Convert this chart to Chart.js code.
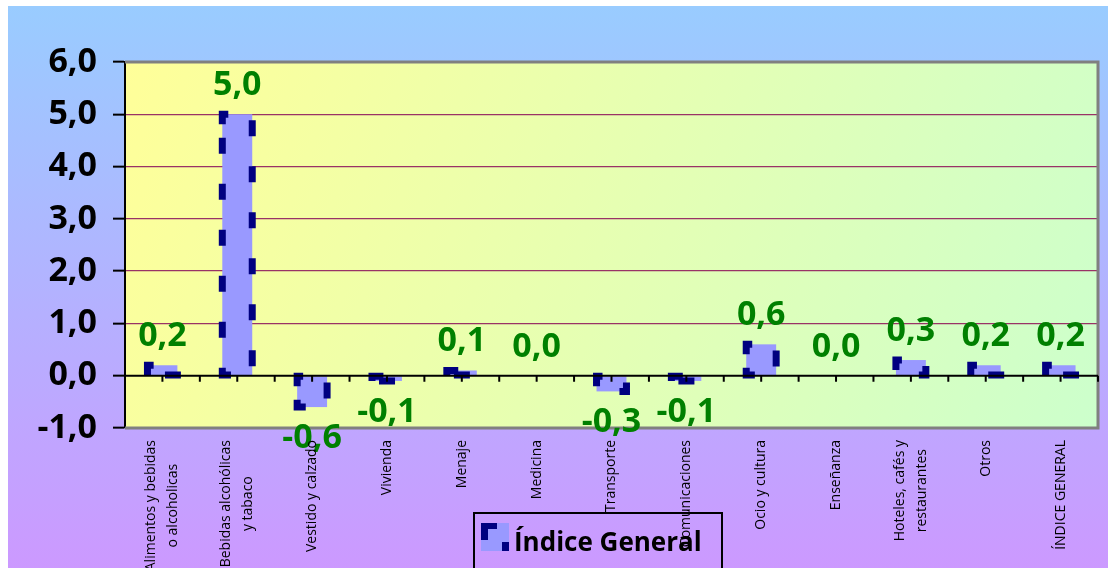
<!DOCTYPE html>
<html>
<head>
<meta charset="utf-8">
<script src="https://cdn.jsdelivr.net/npm/chart.js@4.4.0/dist/chart.umd.min.js"></script>
<style>
    body { margin: 0; background: #ffffff; }
    #wrap { width: 1108px; height: 568px; position: relative; }
</style>
</head>
<body>
<div id="wrap"><canvas id="ipcChart"></canvas></div>
<script>
// categories (x labels, multi-line where the original wraps)
const categories = [
    ['Alimentos y bebidas', 'o alcoholicas'],
    ['Bebidas alcohólicas', 'y tabaco'],
    'Vestido y calzado',
    'Vivienda',
    'Menaje',
    'Medicina',
    'Transporte',
    'Comunicaciones',
    'Ocio y cultura',
    'Enseñanza',
    ['Hoteles, cafés y', 'restaurantes'],
    'Otros',
    'ÍNDICE GENERAL'
];
const indiceGeneral = [0.2, 5.0, -0.6, -0.1, 0.1, 0.0, -0.3, -0.1, 0.6, 0.0, 0.3, 0.2, 0.2];
const seriesName = 'Índice General';
const yTicks = [-1, 0, 1, 2, 3, 4, 5, 6];

const fmt = (v) => v.toFixed(1).replace('.', ',');

// dashed navy outline used for bars
let dashedRect = (ctx, x, y, w, h) => {
    let s = Math.min(10, h);
    ctx.save();
    ctx.strokeStyle = '#000080';
    ctx.lineWidth = 7;
    ctx.lineCap = 'butt';
    ctx.setLineDash([16, 30]);
    ctx.beginPath();
    ctx.moveTo(x, y + s);
    ctx.lineTo(x, y);
    ctx.lineTo(x + w, y);
    ctx.lineTo(x + w, y + h);
    ctx.lineTo(x, y + h);
    ctx.lineTo(x, y + s);
    ctx.stroke();
    ctx.restore();
};

const decor = {
    id: 'decor',
    beforeDraw: (chart) => {
        const ctx = chart.ctx;
        const a = chart.chartArea;
        ctx.save();
        ctx.fillStyle = '#ffffff';
        ctx.fillRect(0, 0, chart.width, chart.height);
        let g = ctx.createLinearGradient(0, 6, 0, chart.height);
        g.addColorStop(0, '#99ccff');
        g.addColorStop(1, '#cc99ff');
        ctx.fillStyle = g;
        ctx.fillRect(8, 6, chart.width - 8, chart.height - 6);

        let pg = ctx.createLinearGradient(a.left, a.top, a.right, a.bottom);
        pg.addColorStop(0, '#ffff99');
        pg.addColorStop(1, '#ccffcc');
        ctx.fillStyle = pg;
        ctx.fillRect(a.left, a.top, a.right - a.left, a.bottom - a.top);

        // legend box
        ctx.strokeStyle = '#000000';
        ctx.lineWidth = 2;
        ctx.strokeRect(474, 513, 248, 60);
        ctx.fillStyle = '#9999ff';
        ctx.fillRect(481, 523, 28, 28);
        ctx.fillStyle = '#000080';
        ctx.fillRect(481, 523, 16, 6);
        ctx.fillRect(481, 523, 7, 17);
        ctx.fillRect(502, 542, 7, 9);
        ctx.fillStyle = '#000000';
        ctx.font = 'bold 26px "Open Sans"';
        ctx.textAlign = 'left';
        ctx.textBaseline = 'alphabetic';
        ctx.fillText(seriesName, 514, 551);
        ctx.restore();
    },
    afterDatasetsDraw: (chart) => {
        const ctx = chart.ctx;
        const a = chart.chartArea;
        const xs = chart.scales.x;
        const ys = chart.scales.y;
        const y0 = ys.getPixelForValue(0);
        const meta = chart.getDatasetMeta(0);

        // bar outlines
        meta.data.forEach((bar, i) => {
            if (indiceGeneral[i] === 0) return;
            let top = Math.min(bar.y, bar.base);
            let h = Math.abs(bar.base - bar.y);
            dashedRect(ctx, bar.x - bar.width / 2, top, bar.width, h);
        });

        ctx.save();
        // plot border (top, right, bottom)
        ctx.strokeStyle = '#808080';
        ctx.lineWidth = 3;
        ctx.beginPath();
        ctx.moveTo(a.left, a.top);
        ctx.lineTo(a.right, a.top);
        ctx.lineTo(a.right, a.bottom);
        ctx.lineTo(a.left, a.bottom);
        ctx.stroke();

        // zero line with ticks every half category
        ctx.strokeStyle = '#000000';
        ctx.lineWidth = 2;
        ctx.beginPath();
        ctx.moveTo(a.left, y0);
        ctx.lineTo(a.right, y0);
        let step = (a.right - a.left) / categories.length / 2;
        for (let k = 1; k <= categories.length * 2; k++) {
            let tx = a.left + k * step;
            ctx.moveTo(tx, y0);
            ctx.lineTo(tx, y0 + 6);
        }
        ctx.stroke();

        // data labels
        ctx.fillStyle = '#008000';
        ctx.font = 'bold 34px "Open Sans"';
        ctx.textAlign = 'center';
        ctx.textBaseline = 'alphabetic';
        meta.data.forEach((bar, i) => {
            let v = indiceGeneral[i];
            let ty = v < 0 ? bar.y + 41 : bar.y - 19;
            ctx.fillText(fmt(v), bar.x, ty);
        });

        // category labels, rotated, lines centred on each other
        ctx.fillStyle = '#000000';
        ctx.font = '14px "Open Sans"';
        ctx.textAlign = 'right';
        ctx.textBaseline = 'middle';
        categories.forEach((lab, i) => {
            let lines = Array.isArray(lab) ? lab : [lab];
            let cx = xs.getPixelForTick(i);
            let widths = lines.map(l => ctx.measureText(l).width);
            let maxW = Math.max(...widths);
            lines.forEach((l, j) => {
                let lx = cx + (j - (lines.length - 1) / 2) * 22;
                let d = (maxW - widths[j]) / 2;
                ctx.save();
                ctx.translate(lx, 440);
                ctx.rotate(-Math.PI / 2);
                ctx.fillText(l, -d, 0);
                ctx.restore();
            });
        });
        ctx.restore();
    }
};

let ctx = document.getElementById('ipcChart').getContext('2d');
let ipcChart = new Chart(ctx, {
    type: 'bar',
    data: {
        labels: categories,
        datasets: [{
            label: seriesName,
            data: indiceGeneral,
            backgroundColor: '#9999ff',
            borderWidth: 0,
            barPercentage: 0.4,
            categoryPercentage: 1.0
        }]
    },
    options: {
        responsive: true,
        maintainAspectRatio: false,
        animation: false,
        layout: { padding: { left: 8, top: 62, right: 10, bottom: 0 } },
        plugins: {
            legend: { display: false },
            tooltip: { enabled: false }
        },
        scales: {
            x: {
                grid: { display: false },
                border: { display: false },
                ticks: { display: false },
                afterFit: (s) => { s.height = 140; }
            },
            y: {
                min: -1,
                max: 6,
                afterBuildTicks: (s) => { s.ticks = yTicks.map(v => ({ value: v })); },
                ticks: {
                    color: '#000000',
                    font: { family: 'Open Sans', size: 34, weight: 'bold' },
                    padding: 16,
                    callback: (v) => fmt(v)
                },
                grid: {
                    color: (c) => (c.tick && c.tick.value > 0 && c.tick.value < 6) ? '#993366' : 'rgba(0,0,0,0)',
                    lineWidth: 1.3,
                    tickColor: '#000000',
                    tickLength: 12,
                    tickWidth: 2
                },
                border: { display: true, color: '#000000', width: 2 },
                afterFit: (s) => { s.width = 117; }
            }
        }
    },
    plugins: [decor]
});
</script>
</body>
</html>
